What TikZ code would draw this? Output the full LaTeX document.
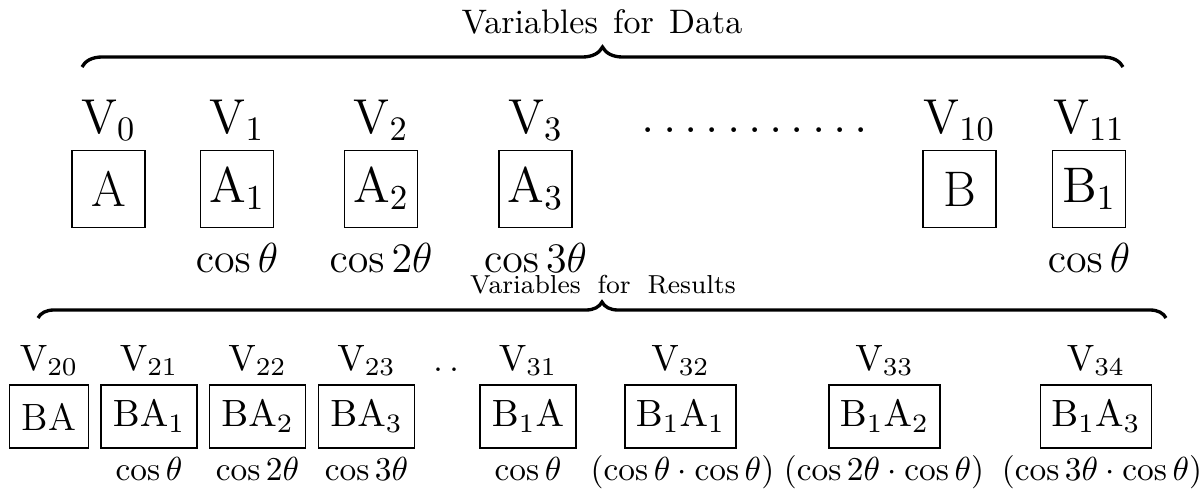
\RequirePackage{fix-cm}
\documentclass[tikz,border=0pt]{standalone}
\usetikzlibrary{decorations.pathreplacing}
\begin{document}
\begin{tikzpicture}[x=0.3pt,y=-0.3pt,
  box/.style={draw,line width=0.45pt,inner sep=0pt},
  topbox/.style={box,minimum width=21.9pt,minimum height=23.1pt,font=\fontsize{15}{17}\selectfont},
  botbox/.style={box,minimum width=28.8pt,minimum height=18.9pt,font=\fontsize{11.4}{13}\selectfont},
  vtop/.style={anchor=base,inner sep=0pt,font=\fontsize{14.7}{17}\selectfont},
  vbot/.style={anchor=base,inner sep=0pt,font=\fontsize{11}{13}\selectfont},
  ctop/.style={anchor=base,inner sep=0pt,font=\fontsize{12.6}{14}\selectfont},
  cbot/.style={anchor=base,inner sep=0pt,font=\fontsize{10}{12}\selectfont},
  bracestyle/.style={decorate,line width=1pt},
  title/.style={anchor=base,inner sep=0pt}
]
\useasboundingbox (0,0) rectangle (1203,493);

% ---------- top group ----------
\coordinate (tl) at (82,67);
\coordinate (tr) at (1123,67);
\draw[bracestyle,decoration={brace,amplitude=6pt}] (tl) -- (tr);
\node[title,font=\fontsize{10.2}{12}\selectfont] (t1) at (602,33) {Variables\hspace{.45em}for\hspace{.45em}Data};

\node[vtop] (v0) at (108.5,133) {$\mathrm{V}_0$};
\node[vtop] (v1) at (237,133) {$\mathrm{V}_1$};
\node[vtop] (v2) at (381,133) {$\mathrm{V}_2$};
\node[vtop] (v3) at (535.5,133) {$\mathrm{V}_3$};
\node[vtop] (v10) at (959.5,133) {$\mathrm{V}_{10}$};
\node[vtop] (v11) at (1089,133) {$\mathrm{V}_{11}$};
\node[vtop] (tdots) at (755,132) {.\kern2.4pt.\kern2.4pt.\kern2.4pt.\kern2.4pt.\kern2.4pt.\kern2.4pt.\kern2.4pt.\kern2.4pt.\kern2.4pt.\kern2.4pt.};

\node[topbox] (a0) at (108.5,189) {A};
\node[topbox] (a1) at (237,189) {$\mathrm{A}_1$};
\node[topbox] (a2) at (381,189) {$\mathrm{A}_2$};
\node[topbox] (a3) at (535.5,189) {$\mathrm{A}_3$};
\node[topbox] (b0) at (959.5,189) {B};
\node[topbox] (b1) at (1089,189) {$\mathrm{B}_1$};

\node[ctop] (c1) at (237,272) {$\cos\theta$};
\node[ctop] (c2) at (381,272) {$\cos2\theta$};
\node[ctop] (c3) at (535.5,272) {$\cos3\theta$};
\node[ctop] (c11) at (1089,272) {$\cos\theta$};

% ---------- bottom group ----------
\coordinate (bl) at (38,318);
\coordinate (br) at (1166,318);
\draw[bracestyle,decoration={brace,amplitude=4.8pt}] (bl) -- (br);
\node[title,font=\fontsize{7.8}{9}\selectfont] (t2) at (603,293) {Variables\hspace{.65em}for\hspace{.65em}Results};

\node[vbot] (v20) at (49,370) {$\mathrm{V}_{20}$};
\node[vbot] (v21) at (149,370) {$\mathrm{V}_{21}$};
\node[vbot] (v22) at (257.5,370) {$\mathrm{V}_{22}$};
\node[vbot] (v23) at (366.5,370) {$\mathrm{V}_{23}$};
\node[vbot] (bdots) at (446.5,371) {.\kern1.74pt.};
\node[vbot] (v31) at (528,370) {$\mathrm{V}_{31}$};
\node[vbot] (v32) at (680.5,370) {$\mathrm{V}_{32}$};
\node[vbot] (v33) at (884.5,370) {$\mathrm{V}_{33}$};
\node[vbot] (v34) at (1096,370) {$\mathrm{V}_{34}$};

\node[botbox,minimum width=23.7pt] (r20) at (49,416.5) {BA};
\node[botbox] (r21) at (149,416.5) {$\mathrm{BA}_1$};
\node[botbox] (r22) at (257.5,416.5) {$\mathrm{BA}_2$};
\node[botbox] (r23) at (366.5,416.5) {$\mathrm{BA}_3$};
\node[botbox] (r31) at (528,416.5) {$\mathrm{B}_1\mathrm{A}$};
\node[botbox,minimum width=33.3pt] (r32) at (680.5,416.5) {$\mathrm{B}_1\mathrm{A}_1$};
\node[botbox,minimum width=33.3pt] (r33) at (884.5,416.5) {$\mathrm{B}_1\mathrm{A}_2$};
\node[botbox,minimum width=33.3pt] (r34) at (1096,416.5) {$\mathrm{B}_1\mathrm{A}_3$};

\node[cbot] (d21) at (149,480) {$\cos\theta$};
\node[cbot] (d22) at (257.5,480) {$\cos2\theta$};
\node[cbot] (d23) at (366.5,480) {$\cos3\theta$};
\node[cbot] (d31) at (528,480) {$\cos\theta$};
\node[cbot] (d32) at (682.5,480) {$(\cos\theta\cdot\cos\theta)$};
\node[cbot] (d33) at (884,480) {$(\cos2\theta\cdot\cos\theta)$};
\node[cbot] (d34) at (1102,480) {$(\cos3\theta\cdot\cos\theta)$};
\end{tikzpicture}
\end{document}
